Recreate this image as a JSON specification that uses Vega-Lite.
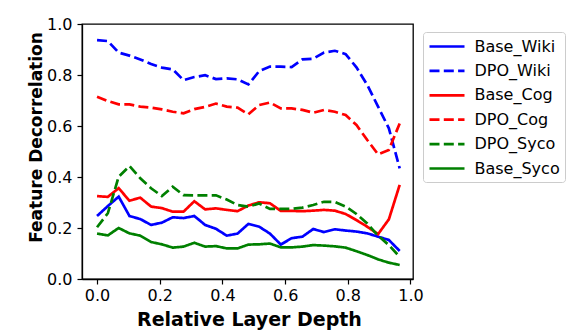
{
  "$schema": "https://vega.github.io/schema/vega-lite/v6.json",
  "width": 331,
  "height": 255,
  "autosize": {"type": "none"},
  "padding": {"left": 82, "top": 24, "right": 173, "bottom": 57},
  "datasets": {
    "rows": [
      {"x":0,"v":0.247,"series":"Base_Wiki"},{"x":0.0345,"v":0.286,"series":"Base_Wiki"},{"x":0.069,"v":0.323,"series":"Base_Wiki"},{"x":0.1034,"v":0.247,"series":"Base_Wiki"},{"x":0.1379,"v":0.235,"series":"Base_Wiki"},{"x":0.1724,"v":0.212,"series":"Base_Wiki"},{"x":0.2069,"v":0.221,"series":"Base_Wiki"},{"x":0.2414,"v":0.242,"series":"Base_Wiki"},{"x":0.2759,"v":0.239,"series":"Base_Wiki"},{"x":0.3103,"v":0.247,"series":"Base_Wiki"},{"x":0.3448,"v":0.212,"series":"Base_Wiki"},{"x":0.3793,"v":0.197,"series":"Base_Wiki"},{"x":0.4138,"v":0.17,"series":"Base_Wiki"},{"x":0.4483,"v":0.178,"series":"Base_Wiki"},{"x":0.4828,"v":0.216,"series":"Base_Wiki"},{"x":0.5172,"v":0.205,"series":"Base_Wiki"},{"x":0.5517,"v":0.178,"series":"Base_Wiki"},{"x":0.5862,"v":0.135,"series":"Base_Wiki"},{"x":0.6207,"v":0.16,"series":"Base_Wiki"},{"x":0.6552,"v":0.166,"series":"Base_Wiki"},{"x":0.6897,"v":0.196,"series":"Base_Wiki"},{"x":0.7241,"v":0.184,"series":"Base_Wiki"},{"x":0.7586,"v":0.195,"series":"Base_Wiki"},{"x":0.7931,"v":0.19,"series":"Base_Wiki"},{"x":0.8276,"v":0.186,"series":"Base_Wiki"},{"x":0.8621,"v":0.179,"series":"Base_Wiki"},{"x":0.8966,"v":0.166,"series":"Base_Wiki"},{"x":0.931,"v":0.153,"series":"Base_Wiki"},{"x":0.9655,"v":0.11,"series":"Base_Wiki"},
      {"x":0,"v":0.937,"series":"DPO_Wiki"},{"x":0.0345,"v":0.933,"series":"DPO_Wiki"},{"x":0.069,"v":0.888,"series":"DPO_Wiki"},{"x":0.1034,"v":0.876,"series":"DPO_Wiki"},{"x":0.1379,"v":0.861,"series":"DPO_Wiki"},{"x":0.1724,"v":0.843,"series":"DPO_Wiki"},{"x":0.2069,"v":0.829,"series":"DPO_Wiki"},{"x":0.2414,"v":0.822,"series":"DPO_Wiki"},{"x":0.2759,"v":0.78,"series":"DPO_Wiki"},{"x":0.3103,"v":0.792,"series":"DPO_Wiki"},{"x":0.3448,"v":0.799,"series":"DPO_Wiki"},{"x":0.3793,"v":0.784,"series":"DPO_Wiki"},{"x":0.4138,"v":0.787,"series":"DPO_Wiki"},{"x":0.4483,"v":0.783,"series":"DPO_Wiki"},{"x":0.4828,"v":0.763,"series":"DPO_Wiki"},{"x":0.5172,"v":0.815,"series":"DPO_Wiki"},{"x":0.5517,"v":0.833,"series":"DPO_Wiki"},{"x":0.5862,"v":0.833,"series":"DPO_Wiki"},{"x":0.6207,"v":0.831,"series":"DPO_Wiki"},{"x":0.6552,"v":0.861,"series":"DPO_Wiki"},{"x":0.6897,"v":0.864,"series":"DPO_Wiki"},{"x":0.7241,"v":0.888,"series":"DPO_Wiki"},{"x":0.7586,"v":0.895,"series":"DPO_Wiki"},{"x":0.7931,"v":0.882,"series":"DPO_Wiki"},{"x":0.8276,"v":0.83,"series":"DPO_Wiki"},{"x":0.8621,"v":0.761,"series":"DPO_Wiki"},{"x":0.8966,"v":0.676,"series":"DPO_Wiki"},{"x":0.931,"v":0.591,"series":"DPO_Wiki"},{"x":0.9655,"v":0.434,"series":"DPO_Wiki"},
      {"x":0,"v":0.325,"series":"Base_Cog"},{"x":0.0345,"v":0.322,"series":"Base_Cog"},{"x":0.069,"v":0.356,"series":"Base_Cog"},{"x":0.1034,"v":0.307,"series":"Base_Cog"},{"x":0.1379,"v":0.319,"series":"Base_Cog"},{"x":0.1724,"v":0.284,"series":"Base_Cog"},{"x":0.2069,"v":0.278,"series":"Base_Cog"},{"x":0.2414,"v":0.264,"series":"Base_Cog"},{"x":0.2759,"v":0.264,"series":"Base_Cog"},{"x":0.3103,"v":0.305,"series":"Base_Cog"},{"x":0.3448,"v":0.273,"series":"Base_Cog"},{"x":0.3793,"v":0.277,"series":"Base_Cog"},{"x":0.4138,"v":0.271,"series":"Base_Cog"},{"x":0.4483,"v":0.266,"series":"Base_Cog"},{"x":0.4828,"v":0.288,"series":"Base_Cog"},{"x":0.5172,"v":0.301,"series":"Base_Cog"},{"x":0.5517,"v":0.297,"series":"Base_Cog"},{"x":0.5862,"v":0.267,"series":"Base_Cog"},{"x":0.6207,"v":0.267,"series":"Base_Cog"},{"x":0.6552,"v":0.266,"series":"Base_Cog"},{"x":0.6897,"v":0.268,"series":"Base_Cog"},{"x":0.7241,"v":0.271,"series":"Base_Cog"},{"x":0.7586,"v":0.268,"series":"Base_Cog"},{"x":0.7931,"v":0.255,"series":"Base_Cog"},{"x":0.8276,"v":0.231,"series":"Base_Cog"},{"x":0.8621,"v":0.205,"series":"Base_Cog"},{"x":0.8966,"v":0.176,"series":"Base_Cog"},{"x":0.931,"v":0.234,"series":"Base_Cog"},{"x":0.9655,"v":0.369,"series":"Base_Cog"},
      {"x":0,"v":0.715,"series":"DPO_Cog"},{"x":0.0345,"v":0.698,"series":"DPO_Cog"},{"x":0.069,"v":0.685,"series":"DPO_Cog"},{"x":0.1034,"v":0.685,"series":"DPO_Cog"},{"x":0.1379,"v":0.676,"series":"DPO_Cog"},{"x":0.1724,"v":0.672,"series":"DPO_Cog"},{"x":0.2069,"v":0.665,"series":"DPO_Cog"},{"x":0.2414,"v":0.656,"series":"DPO_Cog"},{"x":0.2759,"v":0.65,"series":"DPO_Cog"},{"x":0.3103,"v":0.666,"series":"DPO_Cog"},{"x":0.3448,"v":0.675,"series":"DPO_Cog"},{"x":0.3793,"v":0.688,"series":"DPO_Cog"},{"x":0.4138,"v":0.676,"series":"DPO_Cog"},{"x":0.4483,"v":0.672,"series":"DPO_Cog"},{"x":0.4828,"v":0.646,"series":"DPO_Cog"},{"x":0.5172,"v":0.682,"series":"DPO_Cog"},{"x":0.5517,"v":0.692,"series":"DPO_Cog"},{"x":0.5862,"v":0.669,"series":"DPO_Cog"},{"x":0.6207,"v":0.669,"series":"DPO_Cog"},{"x":0.6552,"v":0.663,"series":"DPO_Cog"},{"x":0.6897,"v":0.652,"series":"DPO_Cog"},{"x":0.7241,"v":0.663,"series":"DPO_Cog"},{"x":0.7586,"v":0.656,"series":"DPO_Cog"},{"x":0.7931,"v":0.643,"series":"DPO_Cog"},{"x":0.8276,"v":0.604,"series":"DPO_Cog"},{"x":0.8621,"v":0.545,"series":"DPO_Cog"},{"x":0.8966,"v":0.489,"series":"DPO_Cog"},{"x":0.931,"v":0.506,"series":"DPO_Cog"},{"x":0.9655,"v":0.61,"series":"DPO_Cog"},
      {"x":0,"v":0.203,"series":"DPO_Syco"},{"x":0.0345,"v":0.258,"series":"DPO_Syco"},{"x":0.069,"v":0.401,"series":"DPO_Syco"},{"x":0.1034,"v":0.443,"series":"DPO_Syco"},{"x":0.1379,"v":0.395,"series":"DPO_Syco"},{"x":0.1724,"v":0.356,"series":"DPO_Syco"},{"x":0.2069,"v":0.325,"series":"DPO_Syco"},{"x":0.2414,"v":0.362,"series":"DPO_Syco"},{"x":0.2759,"v":0.329,"series":"DPO_Syco"},{"x":0.3103,"v":0.328,"series":"DPO_Syco"},{"x":0.3448,"v":0.328,"series":"DPO_Syco"},{"x":0.3793,"v":0.328,"series":"DPO_Syco"},{"x":0.4138,"v":0.312,"series":"DPO_Syco"},{"x":0.4483,"v":0.29,"series":"DPO_Syco"},{"x":0.4828,"v":0.284,"series":"DPO_Syco"},{"x":0.5172,"v":0.296,"series":"DPO_Syco"},{"x":0.5517,"v":0.275,"series":"DPO_Syco"},{"x":0.5862,"v":0.275,"series":"DPO_Syco"},{"x":0.6207,"v":0.275,"series":"DPO_Syco"},{"x":0.6552,"v":0.28,"series":"DPO_Syco"},{"x":0.6897,"v":0.29,"series":"DPO_Syco"},{"x":0.7241,"v":0.303,"series":"DPO_Syco"},{"x":0.7586,"v":0.302,"series":"DPO_Syco"},{"x":0.7931,"v":0.284,"series":"DPO_Syco"},{"x":0.8276,"v":0.255,"series":"DPO_Syco"},{"x":0.8621,"v":0.218,"series":"DPO_Syco"},{"x":0.8966,"v":0.17,"series":"DPO_Syco"},{"x":0.931,"v":0.133,"series":"DPO_Syco"},{"x":0.9655,"v":0.087,"series":"DPO_Syco"},
      {"x":0,"v":0.178,"series":"Base_Syco"},{"x":0.0345,"v":0.171,"series":"Base_Syco"},{"x":0.069,"v":0.2,"series":"Base_Syco"},{"x":0.1034,"v":0.179,"series":"Base_Syco"},{"x":0.1379,"v":0.17,"series":"Base_Syco"},{"x":0.1724,"v":0.145,"series":"Base_Syco"},{"x":0.2069,"v":0.136,"series":"Base_Syco"},{"x":0.2414,"v":0.123,"series":"Base_Syco"},{"x":0.2759,"v":0.127,"series":"Base_Syco"},{"x":0.3103,"v":0.142,"series":"Base_Syco"},{"x":0.3448,"v":0.127,"series":"Base_Syco"},{"x":0.3793,"v":0.129,"series":"Base_Syco"},{"x":0.4138,"v":0.12,"series":"Base_Syco"},{"x":0.4483,"v":0.12,"series":"Base_Syco"},{"x":0.4828,"v":0.135,"series":"Base_Syco"},{"x":0.5172,"v":0.136,"series":"Base_Syco"},{"x":0.5517,"v":0.139,"series":"Base_Syco"},{"x":0.5862,"v":0.124,"series":"Base_Syco"},{"x":0.6207,"v":0.124,"series":"Base_Syco"},{"x":0.6552,"v":0.127,"series":"Base_Syco"},{"x":0.6897,"v":0.133,"series":"Base_Syco"},{"x":0.7241,"v":0.131,"series":"Base_Syco"},{"x":0.7586,"v":0.128,"series":"Base_Syco"},{"x":0.7931,"v":0.123,"series":"Base_Syco"},{"x":0.8276,"v":0.109,"series":"Base_Syco"},{"x":0.8621,"v":0.094,"series":"Base_Syco"},{"x":0.8966,"v":0.077,"series":"Base_Syco"},{"x":0.931,"v":0.064,"series":"Base_Syco"},{"x":0.9655,"v":0.055,"series":"Base_Syco"}
    ]
  },
  "data": {"name": "rows"},
  "mark": {"type": "line", "strokeWidth": 2.7, "strokeCap": "butt", "clip": true},
  "encoding": {
    "x": {
      "field": "x", "type": "quantitative",
      "scale": {"domain": [-0.048, 1.008], "nice": false, "zero": false},
      "axis": {"values": [0, 0.2, 0.4, 0.6, 0.8, 1.0], "format": ".1f", "title": "Relative Layer Depth",
               "titleFontSize": 19, "titleBaseline": "alphabetic", "titleY": 46, "titleX": 167}
    },
    "y": {
      "field": "v", "type": "quantitative",
      "scale": {"domain": [0, 1], "nice": false},
      "axis": {"values": [0, 0.2, 0.4, 0.6, 0.8, 1.0], "format": ".1f", "title": "Feature Decorrelation",
               "titleFontSize": 17, "titleBaseline": "alphabetic", "titleAngle": 270, "titleAlign": "center",
               "titleX": -41, "titleY": 113, "labelPadding": 5}
    },
    "color": {
      "field": "series", "type": "nominal",
      "scale": {
        "domain": ["Base_Wiki", "DPO_Wiki", "Base_Cog", "DPO_Cog", "DPO_Syco", "Base_Syco"],
        "range": ["#0000ff", "#0000ff", "#ff0000", "#ff0000", "#008000", "#008000"]
      },
      "legend": {"title": null}
    },
    "strokeDash": {
      "field": "series", "type": "nominal",
      "scale": {
        "domain": ["Base_Wiki", "DPO_Wiki", "Base_Cog", "DPO_Cog", "DPO_Syco", "Base_Syco"],
        "range": [[1, 0], [10, 4.3], [1, 0], [10, 4.3], [10, 4.3], [1, 0]]
      },
      "legend": {"title": null}
    }
  },
  "config": {
    "view": {"stroke": "#000000", "strokeWidth": 1.3},
    "axis": {
      "grid": false,
      "domainColor": "#000000", "domainWidth": 1.3,
      "tickColor": "#000000", "tickWidth": 1.2, "tickSize": 5,
      "labelFont": "DejaVu Sans", "labelFontSize": 16, "labelColor": "#000000", "labelPadding": 3,
      "titleFont": "DejaVu Sans", "titleFontWeight": "bold", "titleColor": "#000000"
    },
    "legend": {
      "orient": "none", "legendX": 341, "legendY": 8,
      "strokeColor": "#cccccc", "fillColor": "#ffffff", "cornerRadius": 3, "padding": 5,
      "symbolType": "M-2.1875,0L2.1875,0", "symbolSize": 256, "symbolStrokeWidth": 2.7, "symbolOffset": 9.5,
      "labelFont": "DejaVu Sans", "labelFontSize": 16, "labelColor": "#000000",
      "labelOffset": 18, "rowPadding": 6.4
    }
  }
}
